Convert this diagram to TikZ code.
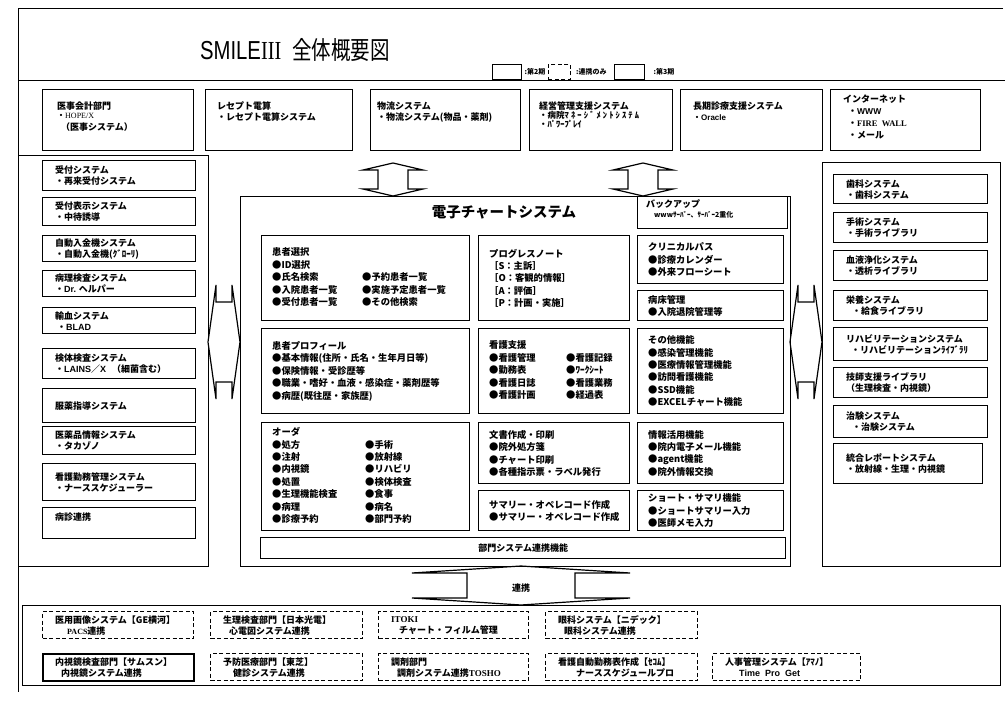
\documentclass[tikz,border=0pt]{standalone}
\usepackage{fontspec}
\setmainfont{Noto Sans CJK JP}
\newfontfamily\lat{Liberation Sans}
\newfontfamily\ser{Liberation Serif}
\tikzset{
  bx/.style={draw, line width=1.4pt, inner sep=0pt},
  dbx/.style={draw, line width=1.3pt, dash pattern=on 4pt off 2.5pt, inner sep=0pt},
  tbx/.style={draw, line width=2.2pt, inner sep=0pt},
  tx/.style={align=left, inner sep=0pt, font=\bfseries\fontsize{9}{11}\selectfont},
  ctx/.style={align=left, inner sep=0pt, font=\bfseries\fontsize{9.3}{12.4}\selectfont},
  frm/.style={draw, line width=1pt},
  harr/.style={draw, line width=1.2pt, fill=white, line join=miter},
}
\newcommand\SB[7][bx]{%
  \node[#1, anchor=north west, minimum width=#5pt, minimum height=#6pt] (#2) at (#3,#4) {};
  \node[tx, anchor=west] (#2t) at ([xshift=13pt]#2.west) {#7};}
\newcommand\SC[7][bx]{%
  \node[#1, anchor=north west, minimum width=#5pt, minimum height=#6pt] (#2) at (#3,#4) {};
  \node[ctx, anchor=west] (#2t) at ([xshift=11pt]#2.west) {#7};}
\newcommand\ST[9][bx]{%
  \node[#1, anchor=north west, minimum width=#5pt, minimum height=#6pt] (#2) at (#3,#4) {};
  \node[tx, anchor=north west] (#2t) at ([xshift=#7pt,yshift=-#8pt]#2.north west) {#9};}
% vertical hollow double arrow: cx y1 y2 shaft-half head-half
\newcommand\VArr[5]{%
  \draw[harr] (#1,#2) -- ({#1+#5},{#2+7}) -- ({#1+#4},{#2+7}) -- ({#1+#4},{#3-7}) -- ({#1+#5},{#3-7}) -- (#1,#3)
   -- ({#1-#5},{#3-7}) -- ({#1-#4},{#3-7}) -- ({#1-#4},{#2+7}) -- ({#1-#5},{#2+7}) -- cycle;}
% horizontal hollow double arrow: cy x1 x2 shaft-half head-half
\newcommand\HArr[5]{%
  \draw[harr] (#2,#1) -- ({#2+8},{#1-#5}) -- ({#2+8},{#1-#4}) -- ({#3-8},{#1-#4}) -- ({#3-8},{#1-#5}) -- (#3,#1)
   -- ({#3-8},{#1+#5}) -- ({#3-8},{#1+#4}) -- ({#2+8},{#1+#4}) -- ({#2+8},{#1+#5}) -- cycle;}
\begin{document}
\begin{tikzpicture}[x=1pt,y=-1pt]
\useasboundingbox[fill=white] (0,0) rectangle (1005,702);

% frames
\draw[frm] (1003,8) -- (18,8) -- (18,692);
\draw[frm] (18,80) -- (1005,80);
\draw[frm] (18,155) rectangle (208,566);
\draw[frm] (822,162) rectangle (1000,566);
\draw[frm] (22,605) rectangle (1000,685);

% title
\node[anchor=base west, inner sep=0pt, xscale=0.78] (title) at (200,59)
  {{\lat\fontsize{26}{26}\selectfont SMILE}{\ser\fontsize{26}{26}\selectfont III}\hspace{14pt}{\fontsize{25}{25}\selectfont 全体概要図}};

% legend
\node[bx, anchor=north west, minimum width=29pt, minimum height=15pt] (lg1) at (492,64) {};
\node[tx, anchor=west, font=\bfseries\fontsize{7}{8}\selectfont] (lg1t) at ([xshift=2pt]lg1.east) {:第2期};
\node[dbx, line width=0.9pt, anchor=north west, minimum width=22pt, minimum height=15pt] (lg2) at (548,64) {};
\node[tx, anchor=west, font=\bfseries\fontsize{7}{8}\selectfont] (lg2t) at ([xshift=5pt]lg2.east) {:連携のみ};
\node[bx, anchor=north west, minimum width=30pt, minimum height=15pt] (lg3) at (614,64) {};
\node[tx, anchor=west, font=\bfseries\fontsize{7}{8}\selectfont] (lg3t) at ([xshift=8pt]lg3.east) {:第3期};

% top row
\ST{t1}{42}{89}{151}{61}{15}{13}{医事会計部門\\[-2pt]{\fontsize{8}{9}\selectfont ・}{\ser\mdseries\fontsize{8}{9}\selectfont HOPE/X}\\[1pt]\hspace{4pt}（医事システム）}
\ST{t2}{205}{89}{147}{61}{12}{13}{レセプト電算\\・レセプト電算システム}
\ST{t3}{370}{89}{150}{61}{7}{13}{物流システム\\・物流システム(物品・薬剤)}
\ST{t4}{529}{89}{143}{61}{10}{13}{経営管理支援システム\\[-2pt]{\fontsize{8.5}{9}\selectfont ・病院\addfontfeature{LetterSpace=25}ﾏﾈｰｼﾞﾒﾝﾄｼｽﾃﾑ}\\[-2pt]{\fontsize{8.5}{9}\selectfont ・ﾊﾟﾜｰﾌﾟﾚｲ}}
\ST{t5}{680}{89}{142}{61}{13}{13}{長期診療支援システム\\{\fontsize{8}{9}\selectfont ・}{\lat\fontsize{8}{9}\selectfont Oracle}}
\ST{t6}{830}{89}{150}{61}{13}{6}{インターネット\\[1pt]\hspace{5pt}・{\lat\fontsize{8.5}{9}\selectfont WWW}\\[1pt]\hspace{5pt}・{\ser\fontsize{8.5}{9}\selectfont FIRE\ \ WALL}\\[1pt]\hspace{5pt}・メール}

% left column
\SB{l1}{42}{160}{153}{30}{受付システム\\・再来受付システム}
\SB{l2}{42}{197}{153}{28}{受付表示システム\\・中待誘導}
\SB{l3}{42}{235}{153}{26}{自動入金機システム\\・自動入金機(ｸﾞﾛｰﾘ)}
\SB{l4}{42}{270}{153}{26}{病理検査システム\\・{\lat Dr.} ヘルパー}
\SB{l5}{42}{307}{153}{26}{輸血システム\\\hspace{2pt}・{\lat BLAD}}
\SB{l6}{42}{348}{153}{30}{検体検査システム\\・{\lat LAINS}／{\lat X}\hspace{6pt}（細菌含む）}
\SB{l7}{42}{388}{153}{34}{服薬指導システム}
\SB{l8}{42}{426}{153}{28}{医薬品情報システム\\・タカゾノ}
\SB{l9}{42}{463}{153}{37}{看護勤務管理システム\\・ナーススケジューラー}
\ST{l10}{42}{507}{153}{31}{13}{6}{病診連携}

% right column
\SB{r1}{833}{174}{154}{29}{歯科システム\\・歯科システム}
\SB{r2}{833}{212}{154}{30}{手術システム\\・手術ライブラリ}
\SB{r3}{833}{250}{154}{30}{血液浄化システム\\・透析ライブラリ}
\SB{r4}{833}{290}{154}{30}{栄養システム\\\hspace{6pt}・給食ライブラリ}
\SB{r5}{833}{327}{154}{33}{リハビリテーションシステム\\\hspace{5pt}・リハビリテーションﾗｲﾌﾞﾗﾘ}
\SB{r6}{833}{367}{154}{30}{技師支援ライブラリ\\（生理検査・内視鏡）}
\SB{r7}{833}{405}{154}{32}{治験システム\\\hspace{6pt}・治験システム}
\SB{r8}{833}{443}{149}{40}{統合レポートシステム\\・放射線・生理・内視鏡}

% arrows
\VArr{393}{163}{196}{15}{30}
\VArr{643}{163}{196}{15}{30}
\HArr{342}{208}{240}{40}{57}
\HArr{342}{790}{822}{40}{57}
\VArr{521}{566}{605}{54}{109}
\node[tx] (renkei) at (521,588) {連携};

% central chart system
\node[bx, anchor=north west, minimum width=550pt, minimum height=370pt] (emr) at (240,196) {};
\node[inner sep=0pt, font=\bfseries\fontsize{14.5}{15}\selectfont] (emrt) at (504,212) {電子チャートシステム};
\node[bx, anchor=north west, minimum width=150pt, minimum height=32pt] (bk) at (637,196) {};
\node[tx, anchor=north west] (bkt) at ([xshift=9pt,yshift=-4pt]bk.north west) {バックアップ\\[-1pt]\hspace{8pt}{\fontsize{7}{8}\selectfont wwwｻｰﾊﾞｰ、ｻｰﾊﾞｰ2重化}};

\SC{c1}{261}{235}{208}{85}{\begin{tabular}{@{}p{90pt}@{}l@{}}患者選択&\\●ID選択&\\●氏名検索&●予約患者一覧\\●入院患者一覧&●実施予定患者一覧\\●受付患者一覧&●その他検索\end{tabular}}
\SC{c2}{478}{235}{151}{85}{プログレスノート\\［S：主訴］\\［O：客観的情報］\\［A：評価］\\［P：計画・実施］}
\SC{c3}{637}{235}{146}{48}{クリニカルパス\\●診療カレンダー\\●外来フローシート}
\SC{c4}{637}{290}{146}{30}{病床管理\\●入院退院管理等}
\SC{c5}{261}{328}{208}{85}{患者プロフィール\\●基本情報(住所・氏名・生年月日等)\\●保険情報・受診歴等\\●職業・嗜好・血液・感染症・薬剤歴等\\●病歴(既往歴・家族歴)}
\SC{c6}{478}{328}{151}{85}{\begin{tabular}{@{}p{77pt}@{}l@{}}看護支援&\\●看護管理&●看護記録\\●勤務表&●ﾜｰｸｼｰﾄ\\●看護日誌&●看護業務\\●看護計画&●経過表\end{tabular}}
\SC{c7}{637}{328}{146}{85}{その他機能\\●感染管理機能\\●医療情報管理機能\\●訪問看護機能\\●SSD機能\\●EXCELチャート機能}
\SC{c8}{261}{422}{208}{108}{\begin{tabular}{@{}p{93pt}@{}l@{}}オーダ&\\●処方&●手術\\●注射&●放射線\\●内視鏡&●リハビリ\\●処置&●検体検査\\●生理機能検査&●食事\\●病理&●病名\\●診療予約&●部門予約\end{tabular}}
\SC{c9}{478}{422}{151}{61}{文書作成・印刷\\●院外処方箋\\●チャート印刷\\●各種指示票・ラベル発行}
\SC{c10}{478}{490}{151}{40}{サマリー・オペレコード作成\\●サマリー・オペレコード作成}
\SC{c11}{637}{422}{146}{61}{情報活用機能\\●院内電子メール機能\\●agent機能\\●院外情報交換}
\SC{c12}{637}{490}{146}{40}{ショート・サマリ機能\\●ショートサマリー入力\\●医師メモ入力}
\node[bx, anchor=north west, minimum width=525pt, minimum height=21pt] (c13) at (260,537) {};
\node[tx] (c13t) at (c13.center) {部門システム連携機能};

% bottom row
\SB[dbx]{b1}{42}{611}{151}{27}{医用画像システム【GE横河】\\\hspace{12pt}{\ser\fontsize{8}{9}\selectfont PACS}連携}
\SB[dbx]{b2}{210}{611}{152}{27}{生理検査部門【日本光電】\\\hspace{6pt}心電図システム連携}
\SB[dbx]{b3}{378}{611}{150}{27}{{\ser ITOKI}\\\hspace{8pt}チャート・フィルム管理}
\SB[dbx]{b4}{545}{611}{152}{27}{眼科システム【ニデック】\\\hspace{6pt}眼科システム連携}
\SB[tbx]{b5}{42}{653}{151}{27}{内視鏡検査部門【サムスン】\\\hspace{6pt}内視鏡システム連携}
\SB[dbx]{b6}{210}{653}{152}{27}{予防医療部門【東芝】\\\hspace{10pt}健診システム連携}
\SB[dbx]{b7}{378}{653}{150}{27}{調剤部門\\\hspace{6pt}調剤システム連携{\ser TOSHO}}
\SB[dbx]{b8}{545}{653}{152}{27}{看護自動勤務表作成【ｾｺﾑ】\\\hspace{18pt}ナーススケジュールプロ}
\SB[dbx]{b9}{712}{653}{148}{27}{人事管理システム【ｱﾏﾉ】\\\hspace{14pt}{\lat Time\ \ Pro\ \ Get}}
\end{tikzpicture}
\end{document}
